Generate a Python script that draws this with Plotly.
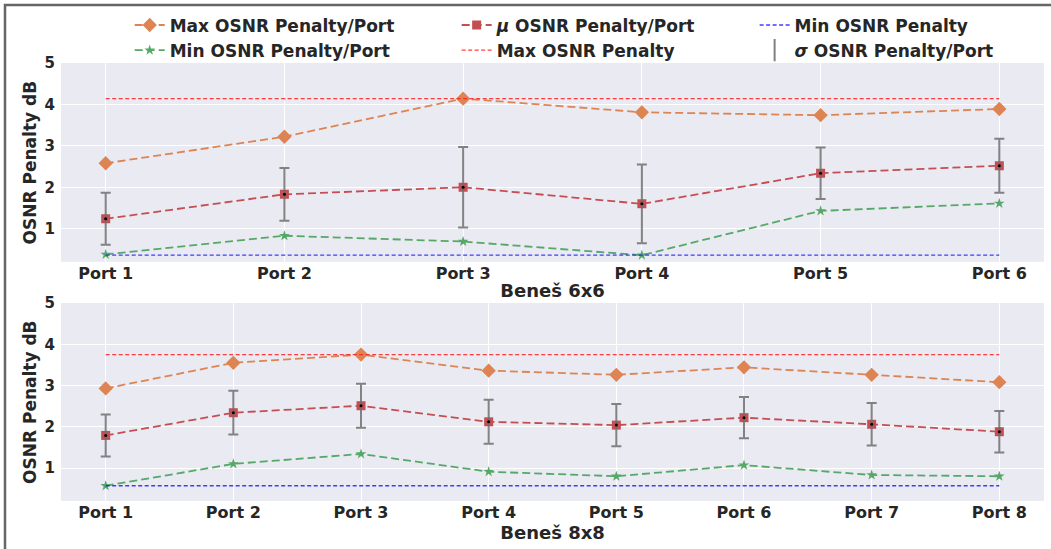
import plotly.graph_objects as go
from plotly.subplots import make_subplots

# ---------------- data ----------------
ports6 = ["Port 1", "Port 2", "Port 3", "Port 4", "Port 5", "Port 6"]
max6 = [2.58, 3.22, 4.14, 3.81, 3.74, 3.89]
mean6 = [1.24, 1.83, 2.00, 1.60, 2.34, 2.52]
std6 = [0.63, 0.635, 0.97, 0.95, 0.62, 0.65]
min6 = [0.38, 0.83, 0.69, 0.36, 1.43, 1.61]
maxline6 = 4.14
minline6 = 0.36

ports8 = ["Port 1", "Port 2", "Port 3", "Port 4", "Port 5", "Port 6", "Port 7", "Port 8"]
max8 = [2.93, 3.55, 3.75, 3.36, 3.26, 3.44, 3.26, 3.08]
mean8 = [1.79, 2.34, 2.51, 2.12, 2.04, 2.22, 2.06, 1.88]
std8 = [0.51, 0.53, 0.535, 0.535, 0.51, 0.50, 0.515, 0.505]
min8 = [0.57, 1.10, 1.34, 0.91, 0.80, 1.07, 0.83, 0.80]
maxline8 = 3.75
minline8 = 0.57

y_ticks = [1, 2, 3, 4, 5]
titles = ["Beneš 6x6", "Beneš 8x8"]
y_title = "OSNR Penalty dB"

# ---------------- style ----------------
FONT = "DejaVu Sans"
ORANGE = "#dd8452"
GREEN = "#55a868"
RED = "#c44e52"
TXT = "#262626"

fig = make_subplots(rows=2, cols=1, vertical_spacing=0.09)

def add_panel(row, ports, mx, mn, sd, mi, maxl, minl, legend_on):
    fig.add_trace(go.Scatter(
        x=ports, y=mx, mode="lines+markers", name="Max OSNR Penalty/Port",
        line=dict(color=ORANGE, width=1.8, dash="8px,4px"),
        marker=dict(symbol="diamond", size=11, color=ORANGE),
        legend="legend", showlegend=legend_on), row=row, col=1)
    fig.add_trace(go.Scatter(
        x=ports, y=mi, mode="lines+markers", name="Min OSNR Penalty/Port",
        line=dict(color=GREEN, width=1.8, dash="8px,4px"),
        marker=dict(symbol="star", size=8, color=GREEN),
        legend="legend", showlegend=legend_on), row=row, col=1)
    fig.add_trace(go.Scatter(
        x=ports, y=mn, mode="lines+markers", name="<i>μ</i> OSNR Penalty/Port",
        line=dict(color=RED, width=1.8, dash="8px,4px"),
        marker=dict(symbol="square", size=9, color=RED),
        legend="legend2", showlegend=legend_on), row=row, col=1)
    fig.add_trace(go.Scatter(
        x=[ports[0], ports[-1]], y=[maxl, maxl], mode="lines", name="Max OSNR Penalty",
        line=dict(color="rgba(255,30,30,0.85)", width=1.3, dash="4px,2.5px"),
        legend="legend2", showlegend=legend_on), row=row, col=1)
    fig.add_trace(go.Scatter(
        x=[ports[0], ports[-1]], y=[minl, minl], mode="lines", name="Min OSNR Penalty",
        line=dict(color="rgba(30,30,255,0.85)", width=1.3, dash="4px,2.5px"),
        legend="legend3", showlegend=legend_on), row=row, col=1)
    fig.add_trace(go.Scatter(
        x=ports, y=mn, mode="markers", name="<i>σ</i> OSNR Penalty/Port",
        marker=dict(symbol="circle", size=3, color="black"),
        error_y=dict(type="data", array=sd, visible=True, color="rgba(110,110,110,0.85)",
                     thickness=2, width=5),
        legend="legend3", showlegend=False), row=row, col=1)
    if legend_on:
        fig.add_trace(go.Scatter(
            x=[None], y=[None], mode="markers", name="<i>σ</i> OSNR Penalty/Port",
            marker=dict(symbol="line-ns-open", size=16, color="gray",
                        line=dict(color="gray", width=2)),
            legend="legend3", showlegend=True), row=row, col=1)

add_panel(1, ports6, max6, mean6, std6, min6, maxline6, minline6, True)
add_panel(2, ports8, max8, mean8, std8, min8, maxline8, minline8, False)

axis_common = dict(
    showgrid=True, gridcolor="white", gridwidth=1.2, zeroline=False, showline=False,
)
fig.update_xaxes(**axis_common, ticks="",
                 tickfont=dict(family=FONT, size=16, color=TXT, weight="bold"))
fig.update_yaxes(**axis_common, ticks="outside", ticklen=2, tickcolor="rgba(0,0,0,0)",
                 tickvals=y_ticks, range=[0.2, 5.0], automargin=False,
                 tickfont=dict(family=FONT, size=15, color=TXT, weight="bold"))
fig.update_xaxes(type="category", categoryarray=ports6, range=[-0.25, 5.25], row=1, col=1,
                 domain=[0, 1])
fig.update_xaxes(type="category", categoryarray=ports8, range=[-0.35, 7.35], row=2, col=1)
fig.update_xaxes(title=dict(text=titles[0], standoff=2,
                            font=dict(family=FONT, size=18, color=TXT, weight="bold")), row=1, col=1)
fig.update_xaxes(title=dict(text=titles[1], standoff=2,
                            font=dict(family=FONT, size=18, color=TXT, weight="bold")), row=2, col=1)
top_dom = [0.546, 1.0]
bot_dom = [0.0, 0.452]
fig.update_yaxes(domain=top_dom, row=1, col=1)
fig.update_yaxes(domain=bot_dom, row=2, col=1)

# y-axis titles (rotated text beside each panel)
for dom in (top_dom, bot_dom):
    fig.add_annotation(text=y_title, textangle=-90, showarrow=False,
                       xref="paper", yref="paper", x=(30 - 61) / 983, y=(dom[0] + dom[1]) / 2,
                       xanchor="center", yanchor="middle",
                       font=dict(family=FONT, size=17, color=TXT, weight="bold"))

leg_common = dict(
    font=dict(family=FONT, size=17, color=TXT, weight="bold"),
    bgcolor="rgba(0,0,0,0)", yanchor="top", y=0.9864, yref="container",
    xanchor="left", xref="container",
    traceorder="normal", tracegroupgap=0, itemwidth=30,
)
fig.update_layout(
    width=1051, height=549,
    margin=dict(l=61, r=7, t=63, b=48, autoexpand=False),
    paper_bgcolor="white", plot_bgcolor="#eaeaf2",
    legend=dict(**leg_common, x=0.1234),
    legend2=dict(**leg_common, x=0.4345),
    legend3=dict(**leg_common, x=0.718),
    shapes=[dict(type="rect", xref="paper", yref="paper",
                 x0=-56/983, x1=1.2, y0=-0.3, y1=1 + (63 - 5) / 438,
                 line=dict(color="#666666", width=2.5), fillcolor="rgba(0,0,0,0)",
                 layer="below")],
)

fig.write_html("out.html", config={"displayModeBar": False},
               post_script="document.body.style.margin='0px';")
